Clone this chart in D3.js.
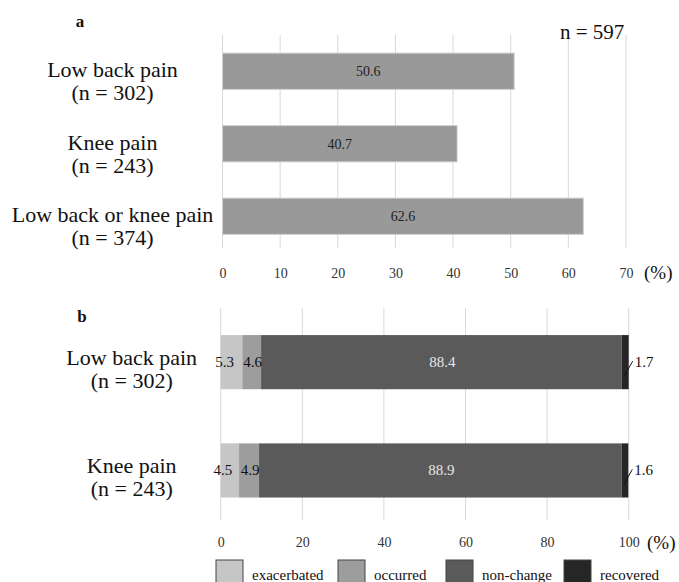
<!DOCTYPE html>
<html>
<head>
<meta charset="utf-8">
<script src="https://cdn.jsdelivr.net/npm/d3@7"></script>
<style>
  html, body { margin: 0; padding: 0; background: #fff; }
  svg { display: block; }
</style>
</head>
<body>
<svg id="chart" width="679" height="582"></svg>
<script>
// Panel a: share of participants reporting each pain site
const catsA = ["Low back pain", "Knee pain", "Low back or knee pain"];
const nA = [302, 243, 374];
const valuesA = [50.6, 40.7, 62.6];
const ticksA = [0, 10, 20, 30, 40, 50, 60, 70];
const totalN = 597;

// Panel b: change in pain status (stacked to 100%)
const catsB = ["Low back pain", "Knee pain"];
const nB = [302, 243];
const seriesNames = ["exacerbated", "occurred", "non-change", "recovered"];
const exacerbated = [5.3, 4.5];
const occurred = [4.6, 4.9];
const nonChange = [88.4, 88.9];
const recovered = [1.7, 1.6];
const ticksB = [0, 20, 40, 60, 80, 100];

const colors = ["#c6c6c6", "#9d9d9d", "#5a5a5a", "#262626"];
const SERIF = "'Liberation Serif', 'Times New Roman', serif";

const svg = d3.select("#chart");

function txt(sel) {
  return sel.style("font-family", SERIF);
}

// ---------- Panel a ----------
const xA = d3.scaleLinear().domain([0, 70]).range([222.5, 626]);
const yA = d3.scaleBand().domain(catsA).range([35, 252.5]).paddingInner(0.5).paddingOuter(0.25);

const gA = svg.append("g");
gA.append("g").selectAll("line").data(ticksA).join("line")
  .attr("x1", d => xA(d)).attr("x2", d => xA(d))
  .attr("y1", 35).attr("y2", 248)
  .attr("stroke", "#d9d9d9").attr("stroke-width", 1);

gA.append("g").selectAll("rect").data(catsA).join("rect")
  .attr("x", xA(0))
  .attr("y", d => yA(d))
  .attr("width", (d, i) => xA(valuesA[i]) - xA(0))
  .attr("height", yA.bandwidth())
  .attr("fill", "#999999")
  .attr("stroke", "#cfcfcf").attr("stroke-width", 1);

txt(gA.append("g").selectAll("text").data(catsA).join("text"))
  .attr("x", (d, i) => (xA(0) + xA(valuesA[i])) / 2)
  .attr("y", d => yA(d) + yA.bandwidth() / 2 + 5)
  .attr("text-anchor", "middle")
  .style("font-size", "14px").attr("fill", "#222")
  .text((d, i) => valuesA[i].toFixed(1));

const labA = txt(gA.append("g").selectAll("text").data(catsA).join("text"))
  .attr("text-anchor", "middle").style("font-size", "22px").attr("fill", "#111");
labA.append("tspan").attr("x", 112.5)
  .attr("y", d => yA(d) + yA.bandwidth() / 2 + 6).text(d => d);
labA.append("tspan").attr("x", 112.5)
  .attr("y", d => yA(d) + yA.bandwidth() / 2 + 29).text((d, i) => `(n = ${nA[i]})`);

const axA = gA.append("g").attr("transform", "translate(0,268)")
  .call(d3.axisBottom(xA).tickValues(ticksA).tickSize(0).tickPadding(0));
axA.select(".domain").remove();
txt(axA.selectAll("text")).style("font-size", "14px").attr("fill", "#333");

txt(svg.append("text")).attr("x", 644).attr("y", 279).style("font-size", "19px").attr("fill", "#111").text("(%)");
txt(svg.append("text")).attr("x", 80).attr("y", 27).attr("text-anchor", "middle")
  .style("font-size", "17px").attr("font-weight", "bold").attr("fill", "#111").text("a");
txt(svg.append("text")).attr("x", 560).attr("y", 39).style("font-size", "21px").attr("fill", "#111")
  .text(`n = ${totalN}`);

// ---------- Panel b ----------
const xB = d3.scaleLinear().domain([0, 100]).range([220.7, 628.7]);
const yB = d3.scaleBand().domain(catsB).range([308, 524.6]).paddingInner(0.5).paddingOuter(0.25);

const rows = catsB.map((c, i) => ({
  cat: c,
  "exacerbated": exacerbated[i],
  "occurred": occurred[i],
  "non-change": nonChange[i],
  "recovered": recovered[i]
}));
const stacked = d3.stack().keys(seriesNames)(rows);

const gB = svg.append("g");
gB.append("g").selectAll("line").data(ticksB).join("line")
  .attr("x1", d => xB(d)).attr("x2", d => xB(d))
  .attr("y1", 308).attr("y2", 520)
  .attr("stroke", "#d9d9d9").attr("stroke-width", 1);

const layers = gB.append("g").selectAll("g").data(stacked).join("g")
  .attr("fill", (d, i) => colors[i]);
layers.selectAll("rect").data(d => d).join("rect")
  .attr("x", d => xB(d[0]))
  .attr("y", d => yB(d.data.cat))
  .attr("width", d => xB(d[1]) - xB(d[0]))
  .attr("height", yB.bandwidth());

// labels inside the first three segments
stacked.slice(0, 3).forEach((layer, li) => {
  txt(gB.append("g").selectAll("text").data(layer).join("text"))
    .attr("x", d => (xB(d[0]) + xB(d[1])) / 2 + (li === 0 ? -7 : 1))
    .attr("y", d => yB(d.data.cat) + yB.bandwidth() / 2 + 5)
    .attr("text-anchor", "middle")
    .style("font-size", "15px")
    .attr("fill", li === 2 ? "#e6e6e6" : "#111")
    .text(d => (d[1] - d[0]).toFixed(1));
});

// recovered values sit outside the bar with a leader line
const rec = stacked[3];
gB.append("g").selectAll("line").data(rec).join("line")
  .attr("x1", d => (xB(d[0]) + xB(d[1])) / 2 - 1)
  .attr("y1", d => yB(d.data.cat) + yB.bandwidth() / 2 + 14)
  .attr("x2", d => xB(d[1]) + 4)
  .attr("y2", d => yB(d.data.cat) + yB.bandwidth() / 2 - 1)
  .attr("stroke", "#111").attr("stroke-width", 1);
txt(gB.append("g").selectAll("text").data(rec).join("text"))
  .attr("x", d => xB(d[1]) + 6)
  .attr("y", d => yB(d.data.cat) + yB.bandwidth() / 2 + 5)
  .style("font-size", "15px").attr("fill", "#111")
  .text(d => (d[1] - d[0]).toFixed(1));

const labB = txt(gB.append("g").selectAll("text").data(catsB).join("text"))
  .attr("text-anchor", "middle").style("font-size", "22px").attr("fill", "#111");
labB.append("tspan").attr("x", 131.7)
  .attr("y", d => yB(d) + yB.bandwidth() / 2 + 3).text(d => d);
labB.append("tspan").attr("x", 131.7)
  .attr("y", d => yB(d) + yB.bandwidth() / 2 + 26).text((d, i) => `(n = ${nB[i]})`);

const axB = gB.append("g").attr("transform", "translate(0,537)")
  .call(d3.axisBottom(xB).tickValues(ticksB).tickSize(0).tickPadding(0));
axB.select(".domain").remove();
txt(axB.selectAll("text")).style("font-size", "14px").attr("fill", "#333");

txt(svg.append("text")).attr("x", 647).attr("y", 549).style("font-size", "19px").attr("fill", "#111").text("(%)");
txt(svg.append("text")).attr("x", 82).attr("y", 322).attr("text-anchor", "middle")
  .style("font-size", "17px").attr("font-weight", "bold").attr("fill", "#111").text("b");

// legend
const legendX = [216, 338, 446, 564];
const leg = svg.append("g").selectAll("g").data(seriesNames).join("g")
  .attr("transform", (d, i) => `translate(${legendX[i]},560)`);
leg.append("rect").attr("width", 27).attr("height", 23)
  .attr("fill", (d, i) => colors[i]).attr("stroke", "#444").attr("stroke-width", 1);
txt(leg.append("text")).attr("x", 36).attr("y", 20).style("font-size", "15px").attr("fill", "#111")
  .text(d => d);
</script>
</body>
</html>
